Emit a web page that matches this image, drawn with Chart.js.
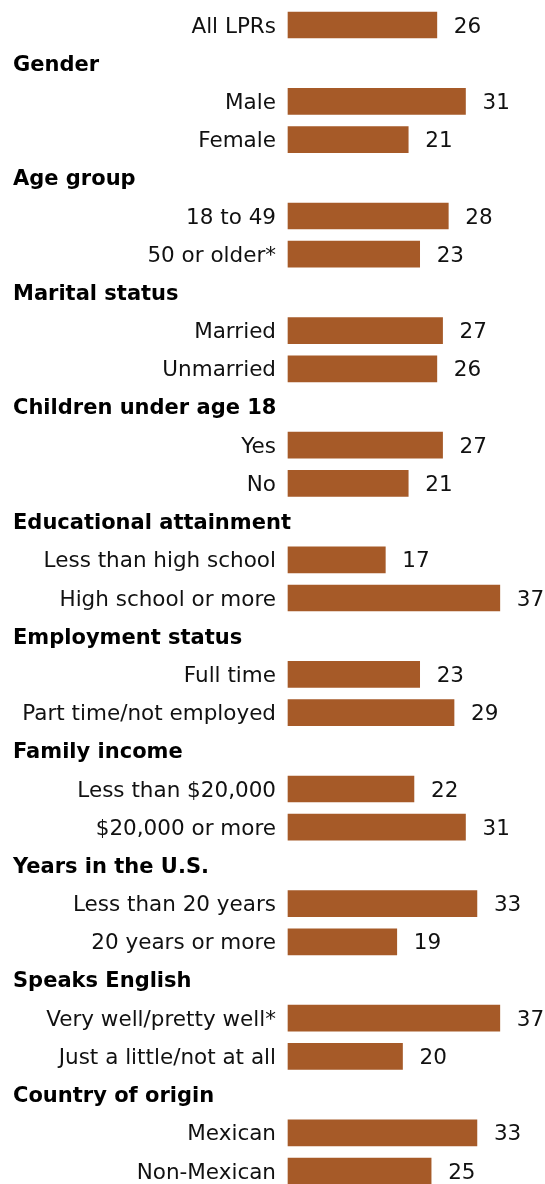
<!DOCTYPE html>
<html>
<head>
<meta charset="utf-8">
<script src="https://cdn.jsdelivr.net/npm/chart.js@4/dist/chart.umd.min.js"></script>
<style>
html,body{margin:0;padding:0;background:#fff;}
#wrap{width:545px;height:1184px;position:relative;}
</style>
</head>
<body>
<div id="wrap"><canvas id="c" width="545" height="1184"></canvas></div>
<script>
const categories = [
  "All LPRs",
  "Gender", "Male", "Female",
  "Age group", "18 to 49", "50 or older*",
  "Marital status", "Married", "Unmarried",
  "Children under age 18", "Yes", "No",
  "Educational attainment", "Less than high school", "High school or more",
  "Employment status", "Full time", "Part time/not employed",
  "Family income", "Less than $20,000", "$20,000 or more",
  "Years in the U.S.", "Less than 20 years", "20 years or more",
  "Speaks English", "Very well/pretty well*", "Just a little/not at all",
  "Country of origin", "Mexican", "Non-Mexican"
];
const isHeading = [
  false,
  true, false, false,
  true, false, false,
  true, false, false,
  true, false, false,
  true, false, false,
  true, false, false,
  true, false, false,
  true, false, false,
  true, false, false,
  true, false, false
];
const values = [
  26,
  null, 31, 21,
  null, 28, 23,
  null, 27, 26,
  null, 27, 21,
  null, 17, 37,
  null, 23, 29,
  null, 22, 31,
  null, 33, 19,
  null, 37, 20,
  null, 33, 25
];

const FONT = '"DejaVu Sans", Verdana, sans-serif';

const labelPlugin = {
  id: 'labelPlugin',
  afterDatasetsDraw(chart) {
    const ctx = chart.ctx;
    const y = chart.scales.y;
    const x = chart.scales.x;
    ctx.save();
    ctx.textBaseline = 'middle';
    categories.forEach((cat, i) => {
      const py = y.getPixelForValue(i);
      if (isHeading[i]) {
        ctx.font = 'bold 21px ' + FONT;
        ctx.fillStyle = '#000';
        ctx.textAlign = 'left';
        ctx.fillText(cat, 13, py + 2);
      } else {
        ctx.font = '21.5px ' + FONT;
        ctx.fillStyle = '#111';
        ctx.textAlign = 'right';
        ctx.fillText(cat, 276, py + 2);
        const v = values[i];
        if (v !== null) {
          ctx.textAlign = 'left';
          ctx.fillText(String(v), x.getPixelForValue(v) + 17, py + 2);
        }
      }
    });
    ctx.restore();
  }
};

new Chart(document.getElementById('c'), {
  type: 'bar',
  data: {
    labels: categories,
    datasets: [{
      data: values,
      backgroundColor: '#a65a28',
      borderWidth: 0,
      barThickness: 26,
      clip: false
    }]
  },
  options: {
    indexAxis: 'y',
    responsive: false,
    animation: false,
    maintainAspectRatio: false,
    layout: { padding: { left: 288, right: 28, top: 25, bottom: 13 } },
    scales: {
      x: { display: false, min: 0, max: 40 },
      y: { display: false, offset: false }
    },
    plugins: {
      legend: { display: false },
      tooltip: { enabled: false }
    }
  },
  plugins: [labelPlugin]
});
</script>
</body>
</html>
